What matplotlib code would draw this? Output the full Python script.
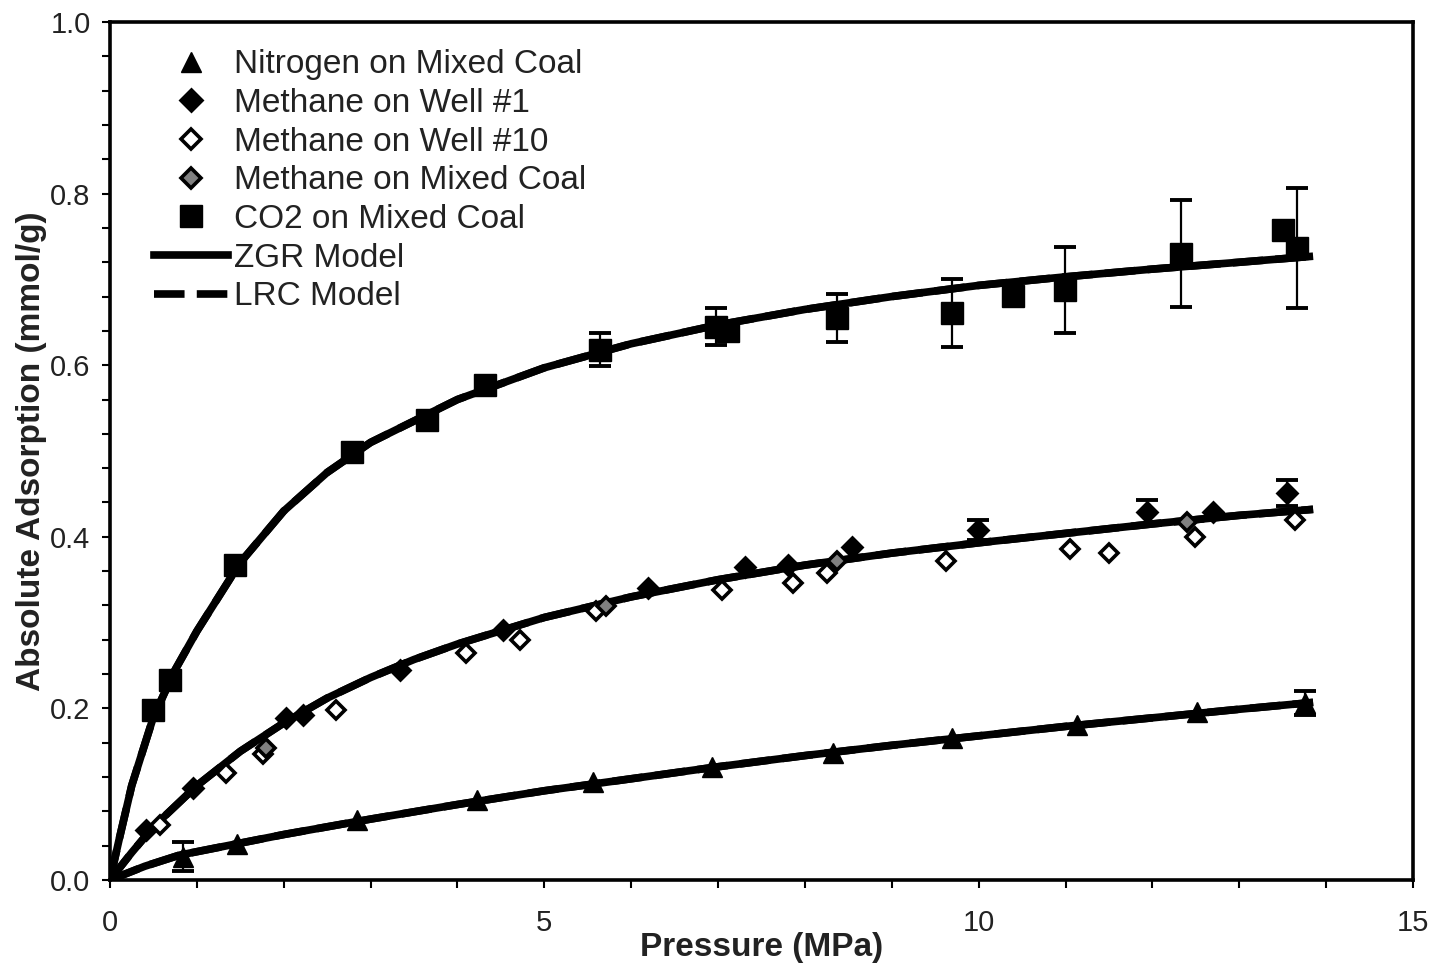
import matplotlib
matplotlib.use("Agg")
import matplotlib.pyplot as plt
from matplotlib.lines import Line2D
from matplotlib.ticker import MultipleLocator

plt.rcParams['font.family'] = ['Liberation Sans', 'DejaVu Sans']

# ---------------- data ----------------
# Nitrogen on Mixed Coal (triangles)
n2_p = [0.84, 1.46, 2.84, 4.22, 5.56, 6.93, 8.32, 9.69, 11.13, 12.51, 13.76]
n2_q = [0.027, 0.042, 0.070, 0.093, 0.114, 0.132, 0.148, 0.165, 0.181, 0.196, 0.206]
n2_err = [0.017, 0, 0, 0, 0, 0, 0, 0, 0, 0, 0.014]

# Methane on Well #1 (filled diamonds)
w1_p = [0.42, 0.96, 2.03, 2.22, 3.34, 4.52, 6.19, 7.31, 7.80, 8.54, 9.99, 11.94, 12.70, 13.55]
w1_q = [0.058, 0.107, 0.189, 0.192, 0.245, 0.291, 0.340, 0.365, 0.367, 0.388, 0.408, 0.429, 0.429, 0.451]
w1_err = [0, 0, 0, 0, 0, 0, 0, 0, 0, 0, 0.012, 0.014, 0, 0.015]

# Methane on Well #10 (open diamonds)
w10_p = [0.58, 1.34, 1.76, 2.60, 4.10, 4.72, 5.60, 7.04, 7.86, 8.25, 9.62, 11.05, 11.50, 12.49, 13.64]
w10_q = [0.064, 0.125, 0.147, 0.198, 0.264, 0.280, 0.313, 0.338, 0.346, 0.358, 0.372, 0.386, 0.381, 0.400, 0.420]

# Methane on Mixed Coal (grey diamonds)
mc_p = [1.80, 5.71, 8.37, 12.40]
mc_q = [0.154, 0.319, 0.372, 0.417]

# CO2 on Mixed Coal (squares)
co2_p = [0.50, 0.69, 1.44, 2.79, 3.65, 4.32, 5.64, 6.98, 7.12, 8.37, 9.69, 10.39, 10.99, 12.33, 13.50, 13.66]
co2_q = [0.198, 0.233, 0.367, 0.499, 0.536, 0.577, 0.618, 0.645, 0.640, 0.655, 0.661, 0.681, 0.688, 0.730, 0.758, 0.737]
co2_err = [0, 0, 0, 0, 0, 0, 0.019, 0.022, 0, 0.028, 0.040, 0, 0.050, 0.062, 0, 0.070]

# Model curves (ZGR and LRC coincide in the picture)
co2_mod_p = [0, 0.1, 0.25, 0.5, 0.75, 1.0, 1.5, 2.0, 2.5, 3.0, 3.5, 4.0, 5.0, 6.0, 7.0,
             8.0, 9.0, 10.0, 11.0, 12.0, 13.0, 13.85]
co2_mod_q = [0, 0.045, 0.11, 0.19, 0.245, 0.29, 0.37, 0.43, 0.475, 0.51, 0.535, 0.56, 0.597,
             0.625, 0.647, 0.665, 0.68, 0.693, 0.703, 0.712, 0.72, 0.727]
ch4_mod_p = [0, 0.25, 0.5, 1.0, 1.5, 2.0, 2.5, 3.0, 3.5, 4.0, 5.0, 6.0, 7.0, 8.0, 9.0,
             10.0, 11.0, 12.0, 13.0, 13.85]
ch4_mod_q = [0, 0.032, 0.062, 0.11, 0.15, 0.183, 0.212, 0.236, 0.257, 0.275, 0.306, 0.33,
             0.35, 0.367, 0.381, 0.393, 0.404, 0.415, 0.425, 0.432]
n2_mod_p = [0, 0.4, 0.8, 1.5, 2.0, 3.0, 4.0, 5.0, 6.0, 7.0, 8.0, 9.0, 10.0, 11.0, 12.0,
            13.0, 13.85]
n2_mod_q = [0, 0.016, 0.029, 0.043, 0.053, 0.071, 0.088, 0.104, 0.118, 0.132, 0.145,
            0.157, 0.168, 0.179, 0.189, 0.199, 0.207]

labels = ["Nitrogen on Mixed Coal", "Methane on Well #1", "Methane on Well #10",
          "Methane on Mixed Coal", "CO2 on Mixed Coal", "ZGR Model", "LRC Model"]

# ---------------- figure ----------------
fig = plt.figure(figsize=(14.35, 9.65), dpi=100)
ax = fig.add_axes([110 / 1435, 85 / 965, 1303 / 1435, 858 / 965])

LW = 5.5
DASH = (4.0, 1.6)
for px, qy in [(co2_mod_p, co2_mod_q), (ch4_mod_p, ch4_mod_q), (n2_mod_p, n2_mod_q)]:
    ax.plot(px, qy, color='black', lw=LW, solid_capstyle='butt', zorder=3)
    ax.plot(px, qy, color='black', lw=LW, dashes=DASH, zorder=3)

ebkw = dict(fmt='none', ecolor='black', elinewidth=1.6, capsize=8, capthick=2.8, zorder=4)

def err_plot(p, q, e):
    pp = [a for a, b in zip(p, e) if b > 0]
    qq = [a for a, b in zip(q, e) if b > 0]
    ee = [b for b in e if b > 0]
    ax.errorbar(pp, qq, yerr=ee, **ebkw)

err_plot(n2_p, n2_q, n2_err)
err_plot(w1_p, w1_q, w1_err)
err_plot(co2_p, co2_q, co2_err)

ax.plot(n2_p, n2_q, ls='none', marker='^', ms=15, color='black', zorder=5)
ax.plot(co2_p, co2_q, ls='none', marker='s', ms=15.5, color='black', zorder=5)
ax.plot(w1_p, w1_q, ls='none', marker='D', ms=10, mfc='black', mec='black', mew=2, zorder=5)
ax.plot(w10_p, w10_q, ls='none', marker='D', ms=9.5, mfc='white', mec='black', mew=2.6, zorder=6)
ax.plot(mc_p, mc_q, ls='none', marker='D', ms=9.5, mfc='#808080', mec='black', mew=2.6, zorder=6)

ax.set_xlim(0, 15)
ax.set_ylim(0, 1.0)
ax.xaxis.set_major_locator(MultipleLocator(5))
ax.xaxis.set_minor_locator(MultipleLocator(1))
ax.yaxis.set_major_locator(MultipleLocator(0.2))
ax.yaxis.set_minor_locator(MultipleLocator(0.04))
ax.yaxis.set_major_formatter(matplotlib.ticker.FormatStrFormatter('%.1f'))
ax.xaxis.set_major_formatter(matplotlib.ticker.FormatStrFormatter('%d'))

for s in ax.spines.values():
    s.set_linewidth(2.6)
ax.tick_params(which='both', direction='out', length=6, width=1.5, top=False, right=False,
               colors='black', labelcolor='#222222', labelsize=21)
ax.tick_params(axis='x', which='major', pad=15)
ax.tick_params(axis='y', which='major', pad=8)

ax.set_xlabel("Pressure (MPa)", fontsize=24, fontweight='bold', color='#222222', labelpad=-4)
ax.set_ylabel("Absolute Adsorption (mmol/g)", fontsize=24, fontweight='bold', color='#222222',
              labelpad=2)

handles = [
    Line2D([], [], ls='none', marker='^', ms=15, color='black'),
    Line2D([], [], ls='none', marker='D', ms=11, mfc='black', mec='black', mew=2),
    Line2D([], [], ls='none', marker='D', ms=10, mfc='white', mec='black', mew=2.6),
    Line2D([], [], ls='none', marker='D', ms=10, mfc='#808080', mec='black', mew=2.6),
    Line2D([], [], ls='none', marker='s', ms=15.5, color='black'),
    Line2D([], [], color='black', lw=LW),
    Line2D([], [], color='black', lw=LW, dashes=DASH),
]
leg = ax.legend(handles, labels, loc='upper left', bbox_to_anchor=(0.034, 0.968),
                frameon=False, fontsize=24, handlelength=2.2, handletextpad=0.2,
                labelspacing=0.23, borderpad=0, borderaxespad=0)
for t in leg.get_texts():
    t.set_color('#222222')

fig.savefig("out.png", dpi=100)
